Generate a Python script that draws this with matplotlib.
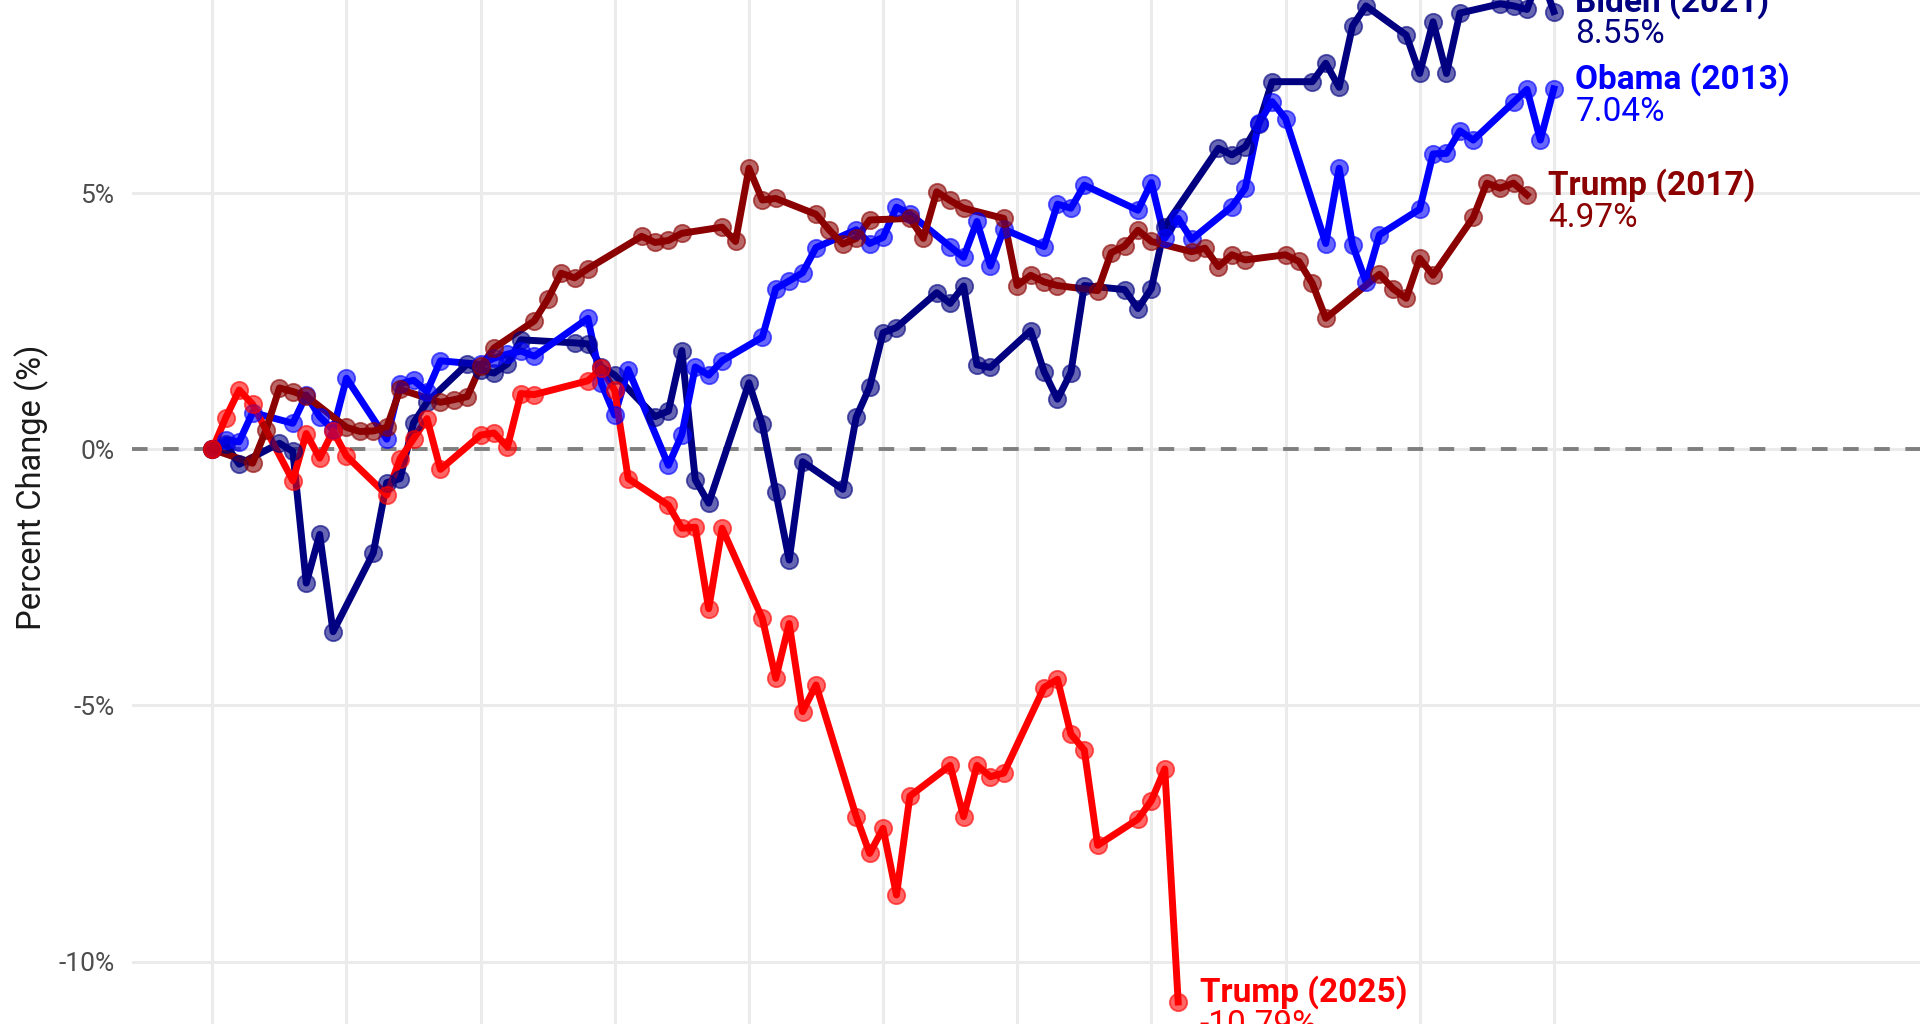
import matplotlib
matplotlib.use("Agg")
import matplotlib.pyplot as plt

plt.rcParams['font.family'] = ['Roboto', 'DejaVu Sans']

# days since inauguration and % change of the index
biden_days = [0, 1, 2, 5, 6, 7, 8, 9, 12, 13, 14, 15, 16, 19, 20, 21, 22, 23, 27, 28, 29, 30,
              33, 34, 35, 36, 37, 40, 41, 42, 43, 44, 47, 48, 49, 50, 51, 54, 55, 56, 57, 58,
              61, 62, 63, 64, 65, 68, 69, 70, 71, 75, 76, 77, 78, 79, 82, 83, 84, 85, 86,
              89, 90, 91, 92, 93, 96, 97, 98, 99, 100]
biden_pct = [0, 0.1, -0.29, 0.12, -0.04, -2.61, -1.66, -3.56, -2.02, -0.65, -0.57, 0.52, 0.92,
             1.67, 1.55, 1.49, 1.67, 2.14, 2.08, 2.06, 1.61, 1.45, 0.64, 0.75, 1.93, -0.59, -1.05,
             1.30, 0.49, -0.83, -2.16, -0.24, -0.78, 0.63, 1.22, 2.28, 2.38, 3.06, 2.85, 3.19,
             1.65, 1.60, 2.32, 1.52, 0.98, 1.50, 3.20, 3.12, 2.75, 3.14, 4.35, 5.88, 5.75, 5.91,
             6.35, 7.18, 7.18, 7.54, 7.07, 8.27, 8.66, 8.09, 7.34, 8.35, 7.34, 8.52, 8.70, 8.66,
             8.59, 9.3, 8.55]

obama_days = [0, 1, 2, 3, 6, 7, 8, 9, 10, 13, 14, 15, 16, 17, 20, 21, 22, 23, 24, 28, 29, 30, 31,
              34, 35, 36, 37, 38, 41, 42, 43, 44, 45, 48, 49, 50, 51, 52, 55, 56, 57, 58, 59,
              62, 63, 64, 65, 69, 70, 71, 72, 73, 76, 77, 78, 79, 80, 83, 84, 85, 86, 87,
              90, 91, 92, 93, 94, 97, 98, 99, 100]
obama_pct = [0, 0.18, 0.15, 0.72, 0.51, 1.06, 0.64, 0.38, 1.39, 0.20, 1.28, 1.35, 1.13, 1.73,
             1.66, 1.78, 1.86, 1.92, 1.82, 2.56, 1.29, 0.67, 1.56, -0.31, 0.29, 1.61, 1.45, 1.73,
             2.19, 3.14, 3.29, 3.45, 3.94, 4.29, 4.02, 4.14, 4.73, 4.60, 3.96, 3.75, 4.45, 3.58,
             4.30, 3.96, 4.79, 4.71, 5.16, 4.67, 5.21, 4.12, 4.51, 4.10, 4.74, 5.10, 6.37, 6.79,
             6.46, 4.02, 5.49, 3.99, 3.27, 4.19, 4.69, 5.77, 5.78, 6.22, 6.04, 6.78, 7.03, 6.04,
             7.04]

trump17_days = [0, 3, 4, 5, 6, 7, 10, 11, 12, 13, 14, 17, 18, 19, 20, 21, 24, 25, 26, 27, 28,
                32, 33, 34, 35, 38, 39, 40, 41, 42, 45, 46, 47, 48, 49, 52, 53, 54, 55, 56,
                59, 60, 61, 62, 63, 66, 67, 68, 69, 70, 73, 74, 75, 76, 77, 80, 81, 82, 83,
                87, 88, 89, 90, 91, 94, 95, 96, 97, 98]
trump17_pct = [0, -0.27, 0.38, 1.20, 1.13, 1.04, 0.43, 0.35, 0.36, 0.43, 1.17, 0.92, 0.97, 1.03,
               1.62, 1.98, 2.51, 2.93, 3.44, 3.35, 3.53, 4.16, 4.04, 4.08, 4.22, 4.34, 4.06, 5.49,
               4.87, 4.90, 4.59, 4.28, 4.01, 4.12, 4.48, 4.51, 4.12, 5.03, 4.86, 4.71, 4.51, 3.20,
               3.40, 3.27, 3.20, 3.10, 3.84, 3.97, 4.28, 4.06, 3.86, 3.93, 3.57, 3.80, 3.70, 3.80,
               3.67, 3.24, 2.56, 3.42, 3.14, 2.95, 3.73, 3.40, 4.53, 5.20, 5.10, 5.20, 4.97]

trump25_days = [0, 1, 2, 3, 6, 7, 8, 9, 10, 13, 14, 15, 16, 17, 20, 21, 22, 23, 24, 28, 29, 30, 31,
                34, 35, 36, 37, 38, 41, 42, 43, 44, 45, 48, 49, 50, 51, 52, 55, 56, 57, 58, 59,
                62, 63, 64, 65, 66, 69, 70, 71, 72]
trump25_pct = [0, 0.62, 1.16, 0.88, -0.61, 0.31, -0.17, 0.36, -0.13, -0.89, -0.18, 0.21, 0.60,
               -0.39, 0.28, 0.32, 0.05, 1.09, 1.07, 1.34, 1.58, 1.15, -0.57, -1.09, -1.54, -1.52,
               -3.11, -1.54, -3.30, -4.47, -3.40, -5.12, -4.60, -7.17, -7.89, -7.40, -8.70, -6.77,
               -6.17, -7.17, -6.17, -6.39, -6.32, -4.65, -4.49, -5.56, -5.87, -7.73, -7.22, -6.86,
               -6.24, -10.79]

series = [
    ("Biden (2021)", biden_days, biden_pct, "#000080"),
    ("Obama (2013)", obama_days, obama_pct, "#0000FF"),
    ("Trump (2017)", trump17_days, trump17_pct, "#8B0000"),
    ("Trump (2025)", trump25_days, trump25_pct, "#FF0000"),
]

y_ticks = [-10, -5, 0, 5]
y_tick_labels = ["-10%", "-5%", "0%", "5%"]
x_ticks = list(range(0, 101, 10))

fig = plt.figure(figsize=(19.2, 10.24), dpi=100)
ax = fig.add_axes([132 / 1920, 0, 1 - 132 / 1920, 1])
ax.set_xlim(-5.99, 127.3)
ax.set_ylim(-11.22, 8.775)

for s in ax.spines.values():
    s.set_visible(False)
ax.set_xticks(x_ticks)
ax.set_xticklabels([])
ax.set_yticks(y_ticks)
ax.set_yticklabels(y_tick_labels)
ax.tick_params(axis='both', length=0)
ax.tick_params(axis='y', labelsize=19, labelcolor='#4D4D4D', pad=12.6)
ax.grid(True, color='#EBEBEB', linewidth=2.2, zorder=0)
ax.set_axisbelow(True)

ax.axhline(0, color='#7F7F7F', linewidth=2.8, linestyle=(0, (4, 4)), zorder=1)

# lines first, then points on top (ggplot layer order)
for name, d, v, c in series:
    ax.plot(d, v, color=c, linewidth=5, zorder=2, solid_joinstyle='round')
for name, d, v, c in series:
    ax.plot(d, v, linestyle='none', marker='o', markersize=12.5, color=c,
            markeredgewidth=1.3, alpha=0.6, zorder=3)

for name, d, v, c in series:
    ax.annotate(name, xy=(d[-1], v[-1]), xytext=(15.5, 0), textcoords='offset points',
                ha='left', va='baseline', fontsize=24, fontweight='bold', color=c,
                annotation_clip=False)
    ax.annotate(f"{v[-1]:.2f}%", xy=(d[-1], v[-1]), xytext=(15.5, -5), textcoords='offset points',
                ha='left', va='top', fontsize=24, color=c, annotation_clip=False)

fig.text(32 / 1920, 1 - 487 / 1024, "Percent Change (%)", rotation=90, ha='center', va='center',
         fontsize=23.5, color='#1A1A1A')

fig.savefig("out.png", dpi=100)
